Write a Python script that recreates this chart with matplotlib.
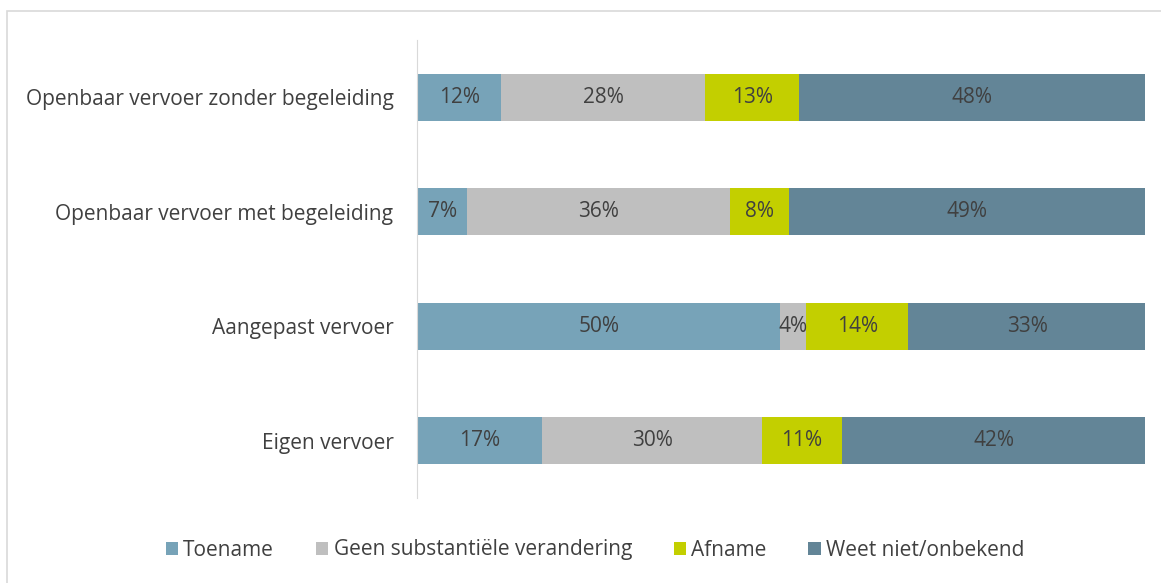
import matplotlib.pyplot as plt
import matplotlib
from matplotlib.patches import Rectangle

plt.rcParams['font.family'] = ['Open Sans', 'DejaVu Sans']

categories = ["Openbaar vervoer zonder begeleiding", "Openbaar vervoer met begeleiding",
              "Aangepast vervoer", "Eigen vervoer"]
series = ["Toename", "Geen substantiële verandering", "Afname", "Weet niet/onbekend"]
toename = [11.6, 6.9, 49.9, 17.2]
geen = [28.0, 36.1, 3.6, 30.2]
afname = [12.9, 8.1, 14.0, 11.0]
weet_niet = [47.5, 48.9, 32.6, 41.6]
colors = ["#77A3B8", "#BFBFBF", "#C3CF00", "#638597"]

fig = plt.figure(figsize=(11.61, 5.83), dpi=100)
fig.patches.append(Rectangle((7/1161, -0.1), 1.2, 1.1 - 11/583, transform=fig.transFigure,
                             fill=False, edgecolor="#D9D9D9", linewidth=1.2))
ax = fig.add_axes([417/1161, 85/583, 728/1161, 458/583])

y = list(range(len(categories)))[::-1]
left = [0] * len(categories)
for name, vals, c in zip(series, [toename, geen, afname, weet_niet], colors):
    ax.barh(y, vals, left=left, height=0.41, color=c, label=name)
    for yi, l, v in zip(y, left, vals):
        ax.text(l + v / 2, yi, f"{v:.0f}%", ha="center", va="center",
                fontsize=15, color="#404040")
    left = [a + b for a, b in zip(left, vals)]

ax.set_xlim(0, 100)
ax.set_ylim(-0.5, 3.5)
ax.set_yticks(y)
ax.set_yticklabels(categories, fontsize=15, color="#404040")
ax.tick_params(axis="y", length=0, pad=17)
ax.set_xticks([])
for s in ["top", "right", "bottom"]:
    ax.spines[s].set_visible(False)
ax.spines["left"].set_color("#D9D9D9")

fig.legend(loc="center", bbox_to_anchor=(595/1161, 1 - 550/583), ncol=4, frameon=False,
           fontsize=15, handlelength=0.6, handleheight=0.6, handletextpad=0.25,
           columnspacing=2.0, labelcolor="#404040")

plt.savefig("out.png", dpi=100)
